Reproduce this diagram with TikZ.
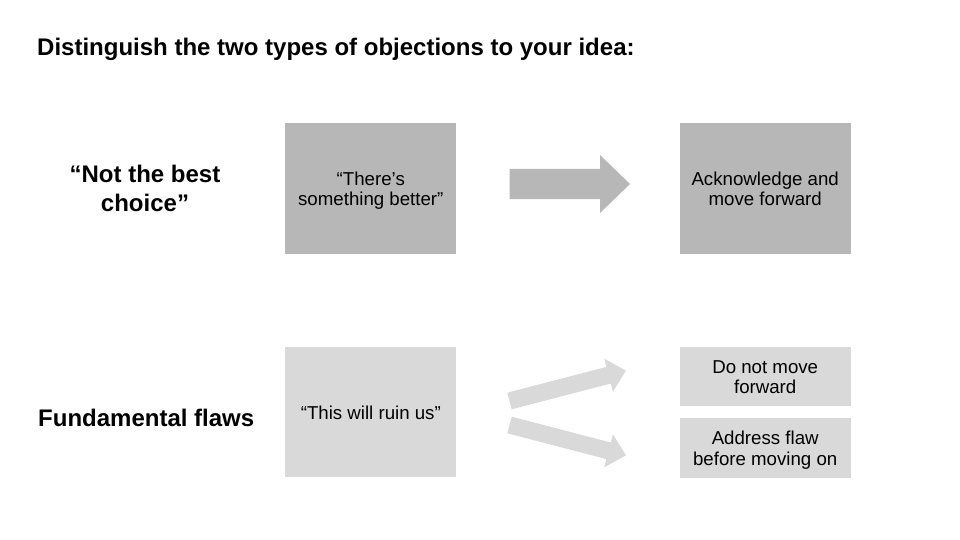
\documentclass[tikz,border=0pt]{standalone}
\usepackage{fontspec}
\setmainfont{Liberation Sans}
\definecolor{boxdark}{HTML}{B7B7B7}
\definecolor{boxlight}{HTML}{D9D9D9}
\begin{document}
\begin{tikzpicture}[x=1pt,y=-1pt,
  darkbox/.style={fill=boxdark, inner sep=0pt, minimum width=171pt},
  lightbox/.style={fill=boxlight, inner sep=0pt, minimum width=171pt},
  boxtext/.style={inner sep=0pt, align=center, text=black, font=\fontsize{18.67}{20.8}\selectfont, yshift=-3pt},
  sidelabel/.style={inner sep=0pt, align=center, text=black, font=\bfseries\fontsize{24}{29.4}\selectfont},
  bigarrow/.style={fill=boxdark},
  smallarrow/.style={fill=boxlight}]
\useasboundingbox (0,0) rectangle (960,540);
\fill[white] (0,0) rectangle (960,540);

% title
\node[anchor=base west, inner sep=0pt, font=\bfseries\fontsize{24}{29}\selectfont] (title) at (37,56) {Distinguish the two types of objections to your idea:};

% side labels
\node[sidelabel] (lab1) at (145,191.1) {\strut“Not the best\\\strut choice”};
\node[sidelabel, anchor=base west] (lab2) at (38,426.7) {Fundamental flaws};

% top row
\node[darkbox, minimum height=131.3pt] (b1) at (370.8,188.3) {};
\node[boxtext] (t1) at (b1.center) {\strut“There’s\\\strut something better”};
\node[darkbox, minimum height=131.3pt] (b2) at (765.2,188.3) {};
\node[boxtext] (t2) at (b2.center) {\strut Acknowledge and\\\strut move forward};

% bottom row
\node[lightbox, minimum height=130pt] (b3) at (370.8,412) {};
\node[boxtext] (t3) at (b3.center) {\strut“This will ruin us”};
\node[lightbox, minimum height=58.7pt] (b4) at (765.2,376.3) {};
\node[boxtext] (t4) at (b4.center) {\strut Do not move\\\strut forward};
\node[lightbox, minimum height=59.7pt] (b5) at (765.2,447.8) {};
\node[boxtext] (t5) at (b5.center) {\strut Address flaw\\\strut before moving on};

% block arrows
\fill[bigarrow] (509.5,169) -- (600,169) -- (600,155) -- (630,184) -- (600,213) -- (600,199) -- (509.5,199) -- cycle;
\fill[smallarrow] (507.3,392.7) -- (606.4,366.9) -- (604.3,358.7) -- (626,370.65) -- (612.9,391.7) -- (610.8,383.5) -- (511.7,409.3) -- cycle;
\fill[smallarrow] (511.7,416.7) -- (610.8,442.5) -- (612.9,434.3) -- (626,455.35) -- (604.3,467.3) -- (606.4,459.1) -- (507.3,433.3) -- cycle;
\end{tikzpicture}
\end{document}
